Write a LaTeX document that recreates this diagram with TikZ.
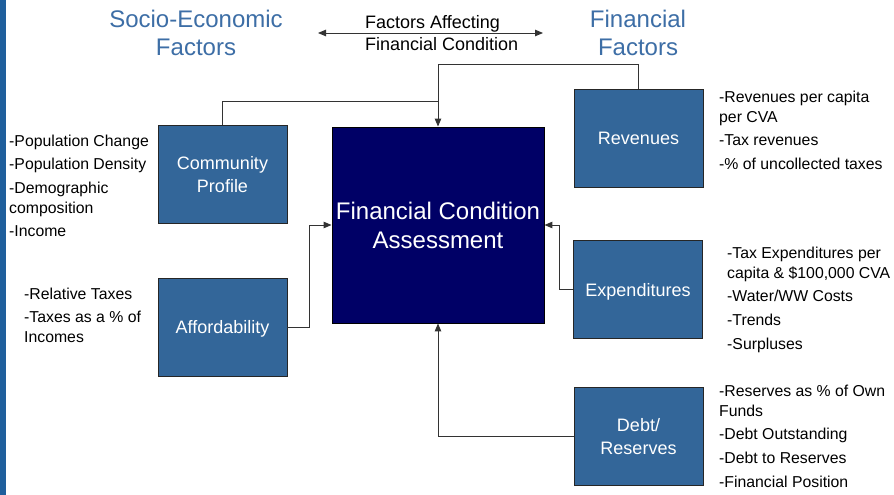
\documentclass[tikz,border=0pt]{standalone}
\usepackage{fontspec}
\setmainfont{Liberation Sans}
\usetikzlibrary{arrows.meta}
\definecolor{boxblue}{HTML}{336699}
\definecolor{navyfill}{HTML}{000066}
\definecolor{titleblue}{HTML}{3D6EA6}
\definecolor{barblue}{HTML}{1F5F9C}
\definecolor{linegray}{HTML}{333333}
\tikzset{
  fbox/.style={draw=black!85, line width=0.9pt, fill=boxblue, text=white,
    minimum width=129pt, minimum height=98pt, align=center,
    font=\fontsize{18}{23}\selectfont, inner sep=0pt, text depth=0pt},
  lst/.style={anchor=north west, align=left, inner sep=0pt,
    font=\fontsize{15.8}{20}\selectfont},
  conn/.style={draw=linegray, line width=1pt},
  tipend/.style={-{Triangle[length=8pt,width=6.5pt]}},
  ttl/.style={text=titleblue, align=center, font=\fontsize{24}{28}\selectfont, inner sep=0pt},
}
\begin{document}
\begin{tikzpicture}[x=1pt,y=-1pt]
\useasboundingbox (0,0) rectangle (894,495);
\fill[white] (0,0) rectangle (894,495);
\fill[barblue] (0,0) rectangle (6,495);

% titles
\node[ttl] (t1) at (196,33) {Socio-Economic\\Factors};
\node[ttl] (t2) at (638,33) {Financial\\Factors};
\coordinate (hl) at (318,33);
\coordinate (hr) at (543,33);
\draw[conn, line width=0.9pt, {Triangle[length=8pt,width=6.5pt]}-{Triangle[length=8pt,width=6.5pt]}] (hl) -- (hr);
\node[anchor=west, align=left, inner sep=0pt, font=\fontsize{18}{21.5}\selectfont] (hdr) at (365,33) {Factors Affecting\\Financial Condition};

% boxes
\node[fbox] (cp) at (222.5,174.5) {Community\\Profile};
\node[fbox] (aff) at (222.5,327) {Affordability};
\node[draw=black, line width=0.9pt, fill=navyfill, text=white, minimum width=212pt,
  minimum height=196pt, align=center, inner sep=0pt,
  font=\fontsize{24}{29}\selectfont] (fca) at (438,225) {Financial Condition\\Assessment};
\node[fbox] (rev) at (638.5,138) {Revenues};
\node[fbox] (exp) at (638,289.5) {Expenditures};
\node[fbox] (debt) at (638.5,436.5) {Debt/\\Reserves};

% lists
\node[lst] (l1) at (9,134.5) {-Population Change\\[3.5pt]-Population Density\\[3.5pt]-Demographic\\composition\\[3.5pt]-Income};
\node[lst] (l2) at (24,287.5) {-Relative Taxes\\[3.5pt]-Taxes as a \% of\\Incomes};
\node[lst] (l3) at (719,90.5) {-Revenues per capita\\per CVA\\[3.7pt]-Tax revenues\\[3.7pt]-\% of uncollected taxes};
\node[lst] (l4) at (727,246.5) {-Tax Expenditures per\\capita \& \$100,000 CVA\\[3.7pt]-Water/WW Costs\\[3.7pt]-Trends\\[3.7pt]-Surpluses};
\node[lst] (l5) at (719,384.5) {-Reserves as \% of Own\\Funds\\[3.7pt]-Debt Outstanding\\[3.7pt]-Debt to Reserves\\[3.7pt]-Financial Position};

% connectors
\coordinate (j1) at (438,101);
\coordinate (j2) at (438,65);
\draw[conn] (cp.north) |- (j1);
\draw[conn, tipend] (rev.north) |- (j2) -- (fca.north);
\coordinate (ja) at (309,225);
\draw[conn, tipend] (aff.east) -| (ja) -- (fca.west);
\coordinate (je) at (559,225);
\draw[conn, tipend] (exp.west) -| (je) -- (fca.east);
\draw[conn, tipend] (debt.west) -| (fca.south);
\end{tikzpicture}
\end{document}
